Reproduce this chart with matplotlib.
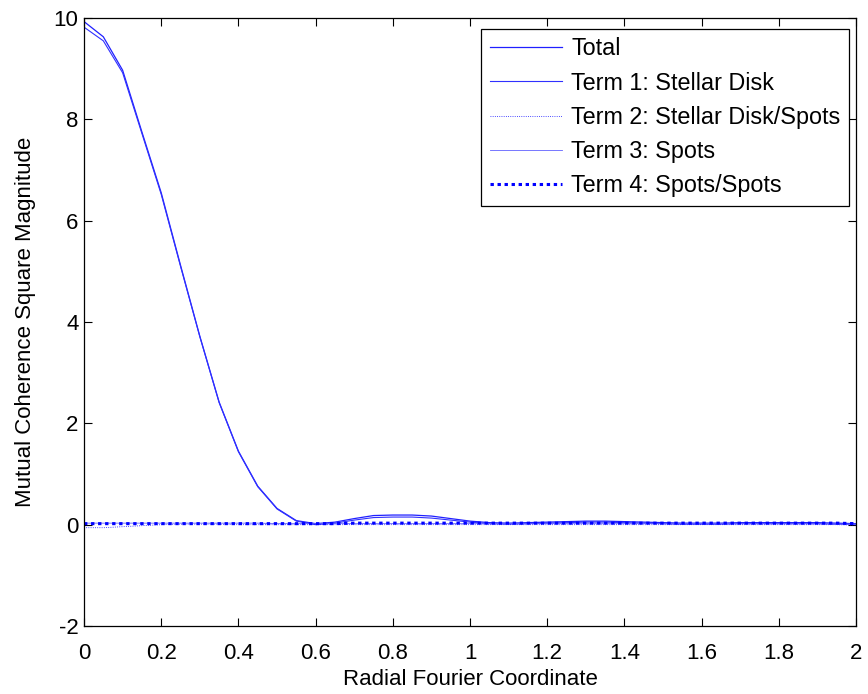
import numpy as np
import matplotlib
matplotlib.use("Agg")
import matplotlib.pyplot as plt

plt.rcParams['font.family'] = ['Liberation Sans', 'DejaVu Sans']
plt.rcParams['axes.unicode_minus'] = False

# radial fourier coordinate, sampled every 0.05
x = np.linspace(0, 2, 41)

total = [9.93, 9.63, 8.97, 7.75, 6.55, 5.12, 3.72, 2.42, 1.45, 0.76,
         0.32, 0.08, 0.02, 0.05, 0.12, 0.18, 0.19, 0.19, 0.17, 0.12,
         0.07, 0.04, 0.03, 0.04, 0.05, 0.06, 0.07, 0.07, 0.06, 0.05,
         0.04, 0.03, 0.03, 0.03, 0.04, 0.04, 0.04, 0.04, 0.04, 0.03, 0.02]
term1 = [9.82, 9.55, 8.92, 7.72, 6.52, 5.10, 3.71, 2.41, 1.44, 0.75,
         0.31, 0.07, 0.00, 0.03, 0.09, 0.14, 0.15, 0.15, 0.13, 0.09,
         0.05, 0.02, 0.01, 0.02, 0.03, 0.04, 0.05, 0.05, 0.04, 0.03,
         0.02, 0.01, 0.01, 0.01, 0.02, 0.02, 0.02, 0.02, 0.02, 0.01, 0.01]
term2 = [-0.06, -0.06, -0.04, -0.02, 0.00, 0.01, 0.01, 0.01, 0.00, 0.00,
         0.00, 0.00, 0.00, 0.00, 0.00, 0.00, 0.00, 0.00, 0.00, 0.00,
         0.00, 0.00, 0.00, 0.00, 0.00, 0.00, 0.00, 0.00, 0.00, 0.00,
         0.00, 0.00, 0.00, 0.00, 0.00, 0.00, 0.00, 0.00, 0.00, 0.00, -0.01]
term3 = [0.03, 0.03, 0.03, 0.03, 0.03, 0.03, 0.03, 0.03, 0.03, 0.03,
         0.02, 0.02, 0.02, 0.02, 0.02, 0.02, 0.02, 0.02, 0.02, 0.02,
         0.02, 0.02, 0.02, 0.02, 0.02, 0.02, 0.02, 0.02, 0.02, 0.02,
         0.02, 0.02, 0.02, 0.02, 0.02, 0.02, 0.02, 0.02, 0.02, 0.01, 0.01]
term4 = [0.02, 0.02, 0.02, 0.02, 0.02, 0.02, 0.02, 0.02, 0.02, 0.02,
         0.02, 0.02, 0.02, 0.02, 0.03, 0.03, 0.03, 0.03, 0.03, 0.03,
         0.03, 0.03, 0.03, 0.03, 0.03, 0.03, 0.03, 0.03, 0.03, 0.03,
         0.03, 0.03, 0.03, 0.03, 0.03, 0.03, 0.03, 0.03, 0.03, 0.03, 0.02]

labels = ['Total', 'Term 1: Stellar Disk', 'Term 2: Stellar Disk/Spots',
          'Term 3: Spots', 'Term 4: Spots/Spots']

fig = plt.figure(figsize=(8.68, 6.94), dpi=100)
ax = fig.add_axes([0.0968, 0.098, 0.8894, 0.876])

ax.plot(x, total, color='#2020ff', lw=0.9, label=labels[0])
ax.plot(x, term1, color='#3030ff', lw=0.8, label=labels[1])
ax.plot(x, term2, color='#1010ff', lw=0.6, ls=':', label=labels[2])
ax.plot(x, term3, color='#6060ff', lw=0.6, label=labels[3])
ax.plot(x, term4, color='#0000ff', lw=2.2, ls=(0, (1.1, 1.2)), label=labels[4])

ax.set_xlim(0, 2)
ax.set_ylim(-2, 10)
ax.set_xticks(np.arange(0, 2.01, 0.2))
ax.set_xticklabels(['0', '0.2', '0.4', '0.6', '0.8', '1', '1.2', '1.4', '1.6', '1.8', '2'])
ax.set_yticks(np.arange(-2, 10.1, 2))
ax.tick_params(direction='in', length=6, width=0.8, top=True, right=True,
               labelsize=16)
ax.tick_params(axis='x', pad=12)
ax.tick_params(axis='y', pad=4)
for s in ax.spines.values():
    s.set_linewidth(0.9)

ax.set_xlabel('Radial Fourier Coordinate', fontsize=16, labelpad=4)
ax.set_ylabel('Mutual Coherence Square Magnitude', fontsize=16, labelpad=13)

leg = ax.legend(loc='upper right', bbox_to_anchor=(0.991, 0.982), fontsize=16.8,
                fancybox=False, framealpha=1, edgecolor='black',
                handlelength=3.1, borderaxespad=0, labelspacing=0.48,
                handletextpad=0.4, borderpad=0.36)
leg.get_frame().set_linewidth(0.9)

fig.savefig('out.png', dpi=100)
